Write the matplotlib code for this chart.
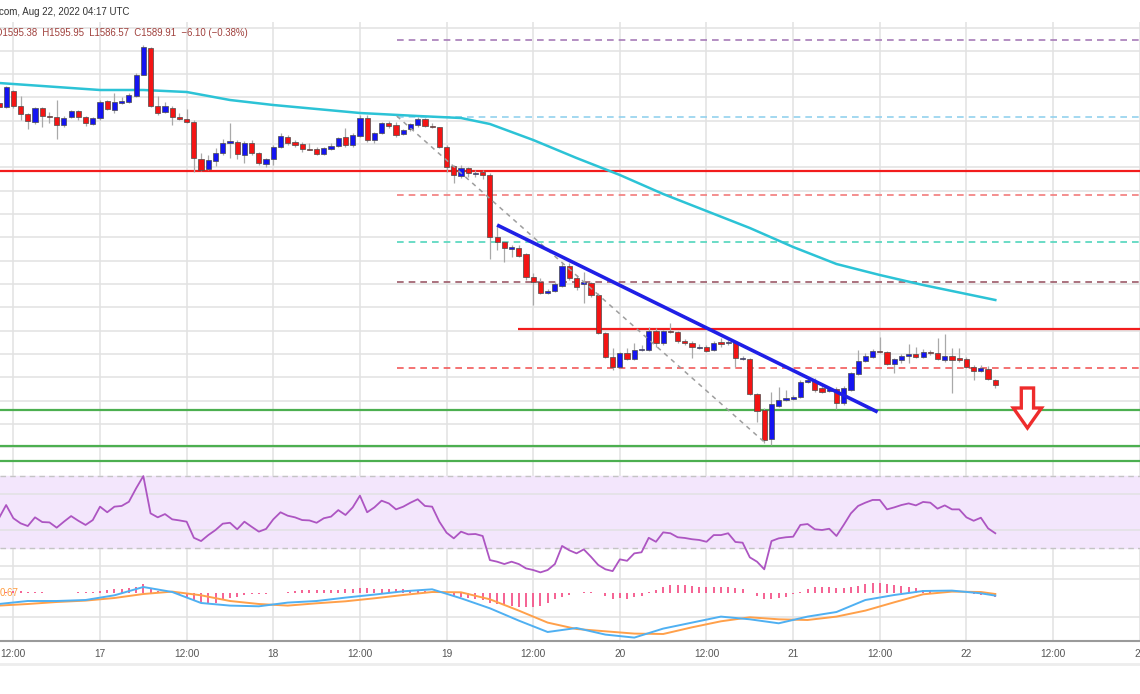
import matplotlib
matplotlib.use("Agg")
import matplotlib.pyplot as plt
from matplotlib.lines import Line2D
import numpy as np

plt.rcParams['font.family'] = ['Liberation Sans', 'DejaVu Sans']

# hourly ETH/USD candles, hours counted from Aug 17 00:00 UTC
hours = np.arange(-14, 125)

opens = [1872, 1868, 1884, 1869, 1861, 1853, 1867, 1859, 1858, 1850, 1858, 1864, 1858, 1851,
         1857, 1874, 1865, 1872, 1873, 1879, 1900, 1927, 1869, 1863, 1867, 1858, 1856, 1853,
         1816, 1806, 1814, 1822, 1832, 1833, 1820, 1832, 1822, 1811, 1816, 1828, 1838, 1833,
         1831, 1826, 1826, 1821, 1826, 1829, 1838, 1830, 1839, 1857, 1835, 1842, 1852, 1850,
         1841, 1846, 1850, 1856, 1849, 1848, 1828, 1809, 1799, 1807, 1801, 1803, 1800, 1738,
         1733, 1726, 1727, 1721, 1698, 1693, 1682, 1684, 1689, 1709, 1697, 1691, 1692, 1680,
         1642, 1618, 1608, 1622, 1616, 1625, 1625, 1644, 1632, 1644, 1643, 1634, 1632, 1627,
         1628, 1625, 1633, 1632, 1633, 1616, 1616, 1581, 1565, 1536, 1569, 1575, 1576, 1578,
         1593, 1594, 1587, 1584, 1586, 1572, 1585, 1601, 1614, 1618, 1624, 1623, 1611, 1615,
         1619, 1621, 1618, 1623, 1622, 1615, 1619, 1617, 1616, 1608, 1604, 1606, 1595.38]
closes = [1868, 1888, 1869, 1861, 1854, 1867, 1859, 1858, 1850, 1857, 1864, 1858, 1852, 1857,
          1873, 1866, 1873, 1874, 1880, 1900, 1928, 1869, 1862, 1869, 1858, 1856, 1853, 1817,
          1805, 1815, 1822, 1832, 1834, 1821, 1832, 1822, 1812, 1816, 1828, 1839, 1832, 1830,
          1826, 1825, 1821, 1827, 1829, 1837, 1830, 1840, 1857, 1835, 1842, 1852, 1849, 1840,
          1845, 1851, 1856, 1849, 1848, 1828, 1808, 1800, 1807, 1802, 1802, 1800, 1738, 1733,
          1727, 1728, 1719, 1698, 1693, 1682, 1684, 1691, 1709, 1697, 1688, 1693, 1680, 1642,
          1618, 1608, 1622, 1616, 1625, 1626, 1644, 1632, 1644, 1643, 1634, 1632, 1628, 1628,
          1624, 1632, 1631, 1633, 1617, 1617, 1581, 1564, 1535, 1571, 1575, 1577, 1578, 1593,
          1595, 1585, 1583, 1586, 1572, 1587, 1602, 1614, 1619, 1624, 1623, 1611, 1616, 1619,
          1621, 1618, 1623, 1622, 1616, 1619, 1615, 1615, 1608, 1604, 1607, 1596, 1589.91]
highs = [1874, 1889, 1885, 1879, 1862, 1868, 1868, 1863, 1875, 1859, 1865, 1865, 1859, 1858,
         1875, 1875, 1882, 1878, 1882, 1902, 1930, 1928, 1879, 1873, 1869, 1862, 1866, 1855,
         1822, 1820, 1827, 1836, 1852, 1835, 1834, 1835, 1823, 1817, 1830, 1842, 1840, 1835,
         1833, 1832, 1828, 1828, 1832, 1838, 1847, 1842, 1860, 1860, 1843, 1853, 1854, 1853,
         1846, 1852, 1858, 1857, 1852, 1848, 1830, 1810, 1810, 1808, 1805, 1805, 1802, 1750,
         1734, 1730, 1730, 1722, 1702, 1697, 1686, 1693, 1713, 1712, 1700, 1703, 1693, 1682,
         1643, 1627, 1623, 1627, 1632, 1630, 1648, 1647, 1645, 1652, 1644, 1636, 1634, 1631,
         1630, 1634, 1637, 1635, 1634, 1619, 1617, 1582, 1567, 1583, 1588, 1585, 1580, 1595,
         1598, 1597, 1589, 1587, 1588, 1589, 1603, 1625, 1622, 1626, 1638, 1624, 1617, 1621,
         1631, 1628, 1626, 1625, 1637, 1641, 1627, 1627, 1618, 1610, 1610, 1609, 1595.95]
lows = [1866, 1867, 1867, 1855, 1846, 1851, 1848, 1852, 1836, 1848, 1857, 1855, 1849, 1850,
        1855, 1865, 1862, 1871, 1872, 1878, 1900, 1868, 1860, 1862, 1850, 1855, 1852, 1803,
        1804, 1805, 1809, 1820, 1817, 1816, 1812, 1820, 1810, 1808, 1810, 1827, 1830, 1828,
        1823, 1825, 1820, 1820, 1825, 1828, 1828, 1828, 1838, 1833, 1832, 1841, 1847, 1838,
        1840, 1844, 1848, 1848, 1847, 1827, 1803, 1792, 1797, 1798, 1798, 1796, 1716, 1725,
        1713, 1718, 1718, 1695, 1670, 1681, 1681, 1683, 1688, 1695, 1685, 1672, 1678, 1641,
        1617, 1605, 1607, 1615, 1615, 1624, 1624, 1628, 1630, 1642, 1632, 1630, 1617, 1626,
        1623, 1624, 1628, 1630, 1608, 1615, 1580, 1553, 1532, 1530, 1568, 1574, 1575, 1577,
        1592, 1583, 1582, 1583, 1566, 1570, 1584, 1600, 1613, 1617, 1622, 1610, 1602, 1612,
        1612, 1617, 1617, 1620, 1615, 1613, 1582, 1613, 1607, 1595, 1603, 1595, 1586.57]

# 100 EMA (cyan)
ema_hours = [-14, -6, 0, 6, 12, 18, 24, 30, 36, 44, 50, 54, 60, 66, 72, 78, 84, 90, 96,
             102, 108, 114, 120, 124]
ema_vals = [1892, 1888, 1885, 1885, 1883, 1875, 1870, 1866, 1862, 1859, 1857, 1851, 1835,
            1817, 1800, 1781, 1764, 1747, 1728, 1711, 1700, 1690, 1681, 1675]

# RSI(14), one value per candle
rsi = [46.5, 53.8, 46.5, 43.7, 42.2, 47.0, 44.4, 44.2, 41.3, 44.6, 47.7, 45.1, 42.8, 45.5,
       52.9, 49.8, 52.9, 53.3, 55.6, 63.0, 69.8, 49.2, 47.0, 48.8, 45.9, 45.3, 44.6, 35.7,
       33.9, 37.2, 40.0, 43.5, 44.0, 40.4, 44.6, 41.8, 39.1, 40.6, 45.9, 49.8, 47.9, 47.0,
       45.5, 45.3, 44.0, 46.5, 47.4, 51.0, 48.3, 52.5, 59.0, 49.8, 52.5, 56.2, 54.7, 51.4,
       52.9, 55.1, 57.0, 53.3, 52.9, 44.6, 38.5, 35.4, 39.1, 37.6, 37.8, 36.7, 23.4, 22.5,
       21.2, 22.5, 21.2, 18.8, 17.9, 16.6, 17.9, 21.2, 31.2, 28.8, 27.1, 29.3, 25.2, 20.7,
       18.3, 17.3, 23.8, 23.0, 27.1, 27.7, 35.7, 33.5, 38.7, 38.2, 36.0, 35.6, 34.9, 34.5,
       33.5, 37.2, 37.2, 38.2, 33.4, 33.0, 24.9, 22.5, 18.3, 33.9, 35.4, 36.0, 36.3, 42.8,
       43.3, 40.4, 40.0, 40.7, 36.7, 42.8, 49.2, 53.3, 55.1, 56.6, 56.6, 51.4, 52.5, 53.8,
       54.7, 53.6, 55.5, 55.1, 51.8, 53.6, 51.4, 51.4, 47.0, 45.1, 46.8, 40.9, 38.2]

# MACD lines (read every 4 hours) and histogram (every candle)
macd_hours = [-14, -10, -6, -2, 2, 6, 10, 14, 18, 22, 26, 30, 34, 38, 42, 46, 50, 54, 58, 62,
              66, 70, 74, 78, 82, 86, 90, 94, 98, 102, 106, 110, 114, 118, 122, 124]
macd_line = [-10.7, -7.7, -7.7, -6.7, -2.0, 6.3, 1.3, -9.7, -12.3, -13.0, -9.3, -7.7, -4.3,
             -1.3, 2.0, 4.0, -5.0, -15.0, -27.3, -38.7, -34.7, -41.3, -44.3, -35.3, -29.3,
             -23.3, -26.0, -30.0, -23.3, -18.7, -6.7, -1.7, 2.3, 2.7, 0.0, -2.3]
signal_line = [-12.3, -10.7, -8.7, -7.3, -4.7, -0.7, 1.7, -2.0, -7.7, -10.7, -12.3, -10.0,
               -8.0, -5.0, -1.7, 1.3, 1.0, -6.0, -17.3, -29.3, -35.7, -38.0, -40.3, -40.7,
               -34.0, -28.0, -24.0, -26.0, -26.7, -23.3, -17.3, -9.0, -1.0, 1.7, 1.3, -0.7]
macd_hist = [1.5, 1.7, 2.3, 2.0, 1.7, 1.3, 1.0, 0.7, 0.7, 0.3, 0.7, 1.0, 1.3, 1.7,
             2.3, 3.3, 4.0, 4.7, 5.3, 6.7, 9.3, 5.0, 2.7, 1.0, 0.0, -1.7, -3.3, -6.7,
             -8.3, -10.0, -9.3, -6.7, -5.0, -4.0, -1.7, -1.0, -0.7, -0.3, 0.0, 0.3, 1.3, 2.7,
             3.3, 3.3, 3.3, 3.0, 3.3, 3.3, 4.0, 4.0, 5.3, 5.0, 4.7, 4.7, 4.0, 4.0,
             4.0, 3.3, 2.7, 2.0, 1.3, 0.7, 0.0, -2.7, -4.0, -5.0, -6.0, -6.7, -9.3, -10.7,
             -11.7, -12.7, -13.3, -13.3, -13.3, -12.7, -10.0, -6.0, -4.0, -1.5, 0.0, 1.7, 1.3, 0.0,
             -2.7, -6.0, -5.0, -6.0, -4.0, -2.7, 1.3, 3.3, 6.7, 8.3, 8.3, 8.3, 7.3, 6.7,
             6.7, 6.0, 6.0, 6.0, 5.0, 4.0, 0.7, -2.7, -6.0, -6.0, -5.0, -3.3, -0.7, 1.7,
             4.0, 6.0, 6.0, 6.7, 5.3, 5.7, 6.7, 7.7, 9.3, 10.0, 10.0, 9.3, 8.3, 7.3,
             6.0, 5.0, 3.3, 2.3, 1.7, 1.3, 0.7, 0.7, 0.0, -0.7, -1.3, -2.0, -3.3]

# drawn levels
fib_start = 41.1
fib_prices = [1935, 1858, 1780, 1733, 1693, 1607]
fib_colors = ['#a77bb8', '#94d2ee', '#f27c7c', '#52d6bc', '#9c5a68', '#f25a5a']
red_levels = [1804, 1646]
red_starts = [-14, 57.9]
green_levels = [1565, 1529, 1514]
trend_x = [55.0, 107.7]
trend_y = [1750, 1563]
fib_diag_x = [41.1, 92.0]
fib_diag_y = [1859, 1533]
arrow_x = 128.45
arrow_top, arrow_neck, arrow_tip = 1587, 1567, 1547

tick_hours = np.arange(-12, 145, 12)
tick_labels = ['12:00', '17', '12:00', '18', '12:00', '19', '12:00', '20', '12:00',
               '21', '12:00', '22', '12:00', '23']

W, H = 1140, 694
fig = plt.figure(figsize=(W / 100, H / 100), dpi=100)
ax = fig.add_axes([0, 1 - 469 / H, 1, (469 - 22) / H])
ax_rsi = fig.add_axes([0, 1 - 576 / H, 1, (576 - 469) / H], sharex=ax)
ax_macd = fig.add_axes([0, 1 - 641 / H, 1, (641 - 576) / H], sharex=ax)

xmin, xmax = -13.85, 144.04
grid_c = '#e2e2e2'
for a in (ax, ax_rsi, ax_macd):
    a.set_facecolor('white')
    for s in a.spines.values():
        s.set_visible(False)
    for t in tick_hours:
        a.axvline(t, color=grid_c, lw=1.1, zorder=0)
    a.tick_params(left=False, labelleft=False, bottom=False, labelbottom=False)

# main pane
ax.set_xlim(xmin, xmax)
ax.set_ylim(1506, 1953)
for p in np.arange(1947.5, 1506, -23.33):
    ax.axhline(p, color=grid_c, lw=1.1, zorder=0)

for p, c in zip(fib_prices, fib_colors):
    ax.hlines(p, fib_start, xmax, colors=c, lw=1.2, linestyles=(0, (4, 3)), zorder=1)
for p, s in zip(red_levels, red_starts):
    ax.hlines(p, s, xmax, colors='#f21c1c', lw=1.6, zorder=1.5)
for p in green_levels:
    ax.axhline(p, color='#4caf50', lw=1.6, zorder=1.5)

ax.plot(ema_hours, ema_vals, color='#2cc3d6', lw=1.8, zorder=2)

o = np.array(opens)
c = np.array(closes)
up = c >= o
body_lo = np.minimum(o, c)
body_h = np.maximum(np.abs(c - o), 0.9)
ax.vlines(hours, lows, highs, colors='#a9a9a9', lw=0.9, zorder=2.5)
ax.bar(hours, body_h, bottom=body_lo, width=0.72,
       color=np.where(up, '#1414f2', '#f41414'), edgecolor='#4a4a4a', linewidth=0.5, zorder=3)

ax.plot(fib_diag_x, fib_diag_y, color='#9e9e9e', lw=1.1, ls=(0, (3, 3)), zorder=3.5)
ax.plot(trend_x, trend_y, color='#1f1fe6', lw=2.6, zorder=4, solid_capstyle='butt')

hw, sw = 1.95, 0.85
arrow = [(arrow_x - sw, arrow_top), (arrow_x + sw, arrow_top), (arrow_x + sw, arrow_neck),
         (arrow_x + hw, arrow_neck), (arrow_x, arrow_tip), (arrow_x - hw, arrow_neck),
         (arrow_x - sw, arrow_neck)]
ax.add_patch(plt.Polygon(arrow, closed=True, facecolor='white', edgecolor='#ee2c2c',
                         lw=2.4, joinstyle='miter', zorder=5))

# RSI pane
ax_rsi.set_ylim(14.6, 73.7)
ax_rsi.axhspan(30, 70, color='#f3e6fc', zorder=0.5)
for v in (60, 40, 20):
    ax_rsi.axhline(v, color=grid_c, lw=1.1, zorder=0.8)
for v in (70, 30):
    ax_rsi.axhline(v, color='#c4c4c4', lw=1.0, ls=(0, (4, 3)), zorder=0.9)
ax_rsi.plot(hours, rsi, color='#ad55c2', lw=1.3, zorder=3, clip_on=False)

# MACD pane
ax_macd.set_ylim(-47.7, 17.3)
for v in (14, -23.7):
    ax_macd.axhline(v, color=grid_c, lw=1.1, zorder=0.8)
ax_macd.vlines(hours, 0, macd_hist, colors='#f4558a', lw=1.3, zorder=2)
ax_macd.plot(macd_hours, signal_line, color='#ffa04a', lw=1.4, zorder=3)
ax_macd.plot(macd_hours, macd_line, color='#4fb0f2', lw=1.4, zorder=3.5)
ax_macd.text(xmin, 0, '0.67', color='#ff9a3c', fontsize=7, va='center', ha='left', zorder=5)

ax_macd.spines['bottom'].set_visible(True)
ax_macd.spines['bottom'].set_color('#9a9a9a')
ax_macd.spines['bottom'].set_linewidth(1.5)
ax_macd.set_xticks(tick_hours)
ax_macd.set_xticklabels(tick_labels)
ax_macd.tick_params(bottom=False, labelbottom=True, pad=2, labelsize=7.3, labelcolor='#555555')

fig.add_artist(Line2D([0, 1], [1 - 664 / H] * 2, color='#ededed', lw=2))

fig.text(-0.001, 1 - 12 / H, 'com, Aug 22, 2022 04:17 UTC', fontsize=7.0, color='#333333',
         va='center', ha='left')
fig.text(-0.004, 1 - 33 / H, 'O1595.38  H1595.95  L1586.57  C1589.91  \u22126.10 (\u22120.38%)',
         fontsize=6.9, color='#a0403c', va='center', ha='left')

fig.savefig('out.png', dpi=100)
